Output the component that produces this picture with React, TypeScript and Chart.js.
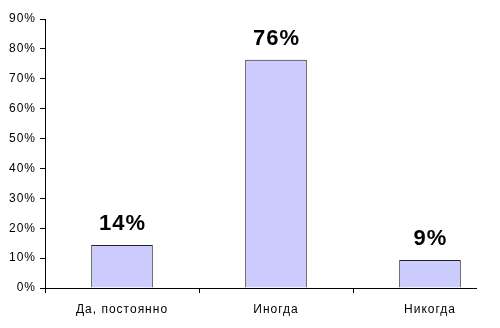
import React, { useEffect, useRef } from "react";
import { Chart, registerables } from "chart.js";

Chart.register(...registerables);

const categories = ["Да, постоянно", "Иногда", "Никогда"];
const values = [14.4, 76.4, 9.4];
const yTicksMax = 90;
const yTickStep = 10;

const FONT = "'Liberation Sans', Arial, sans-serif";

export default function App() {
  const ref = useRef<HTMLCanvasElement | null>(null);

  useEffect(() => {
    const canvas = ref.current;
    if (!canvas) return;

    const spacing = {
      id: "spacing",
      beforeUpdate(chart: any) {
        chart.ctx.letterSpacing = "1px";
      },
      beforeLayout(chart: any) {
        chart.ctx.letterSpacing = "1px";
      },
      beforeDraw(chart: any) {
        chart.ctx.letterSpacing = "1px";
      },
    };

    const dataLabels = {
      id: "dataLabels",
      afterDatasetsDraw(chart: any) {
        const ctx = chart.ctx;
        const meta = chart.getDatasetMeta(0);
        ctx.save();
        ctx.letterSpacing = "1px";
        ctx.font = `bold 22px ${FONT}`;
        ctx.fillStyle = "#000";
        ctx.textAlign = "center";
        ctx.textBaseline = "alphabetic";
        meta.data.forEach((el: any, i: number) => {
          ctx.fillText(Math.round(values[i]) + "%", el.x + 0.5, el.y - 15);
        });
        ctx.restore();
      },
    };

    const xAxisLine = {
      id: "xAxisLine",
      afterDraw(chart: any) {
        const { ctx, chartArea } = chart;
        ctx.save();
        ctx.strokeStyle = "#000";
        ctx.lineWidth = 1;
        ctx.beginPath();
        const y = Math.round(chartArea.bottom) + 0.5;
        ctx.moveTo(chartArea.left, y);
        ctx.lineTo(chartArea.right - 30, y);
        ctx.stroke();
        ctx.restore();
      },
    };

    const chart = new Chart(canvas, {
      type: "bar",
      data: {
        labels: categories,
        datasets: [
          {
            data: values,
            backgroundColor: "#CCCCFF",
            borderColor: "#222",
            borderWidth: 1,
            categoryPercentage: 0.4,
            barPercentage: 1,
          },
        ],
      },
      options: {
        responsive: false,
        animation: false,
        layout: { padding: { top: 19, left: 0, right: 0, bottom: 0 } },
        plugins: {
          legend: { display: false },
          tooltip: { enabled: false },
        },
        scales: {
          x: {
            offset: true,
            border: { display: false },
            grid: {
              offset: true,
              drawOnChartArea: false,
              drawTicks: true,
              tickLength: 5,
              color: "#000",
            },
            ticks: {
              color: "#000",
              padding: 9,
              font: { family: FONT, size: 12 },
              maxRotation: 0,
            },
            afterFit: (s: any) => {
              s.height = 40;
            },
          },
          y: {
            min: 0,
            max: yTicksMax,
            border: { display: true, color: "#000" },
            grid: {
              drawOnChartArea: false,
              drawTicks: true,
              tickLength: 5,
              color: "#000",
            },
            ticks: {
              stepSize: yTickStep,
              color: "#000",
              padding: 4,
              font: { family: FONT, size: 12 },
              callback: (v: any) => v + "%",
            },
            afterFit: (s: any) => {
              s.width = 45;
            },
          },
        },
      },
      plugins: [spacing, dataLabels, xAxisLine],
    });

    return () => chart.destroy();
  }, []);

  return (
    <div
      style={{
        position: "absolute",
        left: 0,
        top: 0,
        width: 500,
        height: 328,
        overflow: "hidden",
        background: "#fff",
      }}
    >
      <canvas ref={ref} width={507} height={328} style={{ display: "block" }} />
    </div>
  );
}
